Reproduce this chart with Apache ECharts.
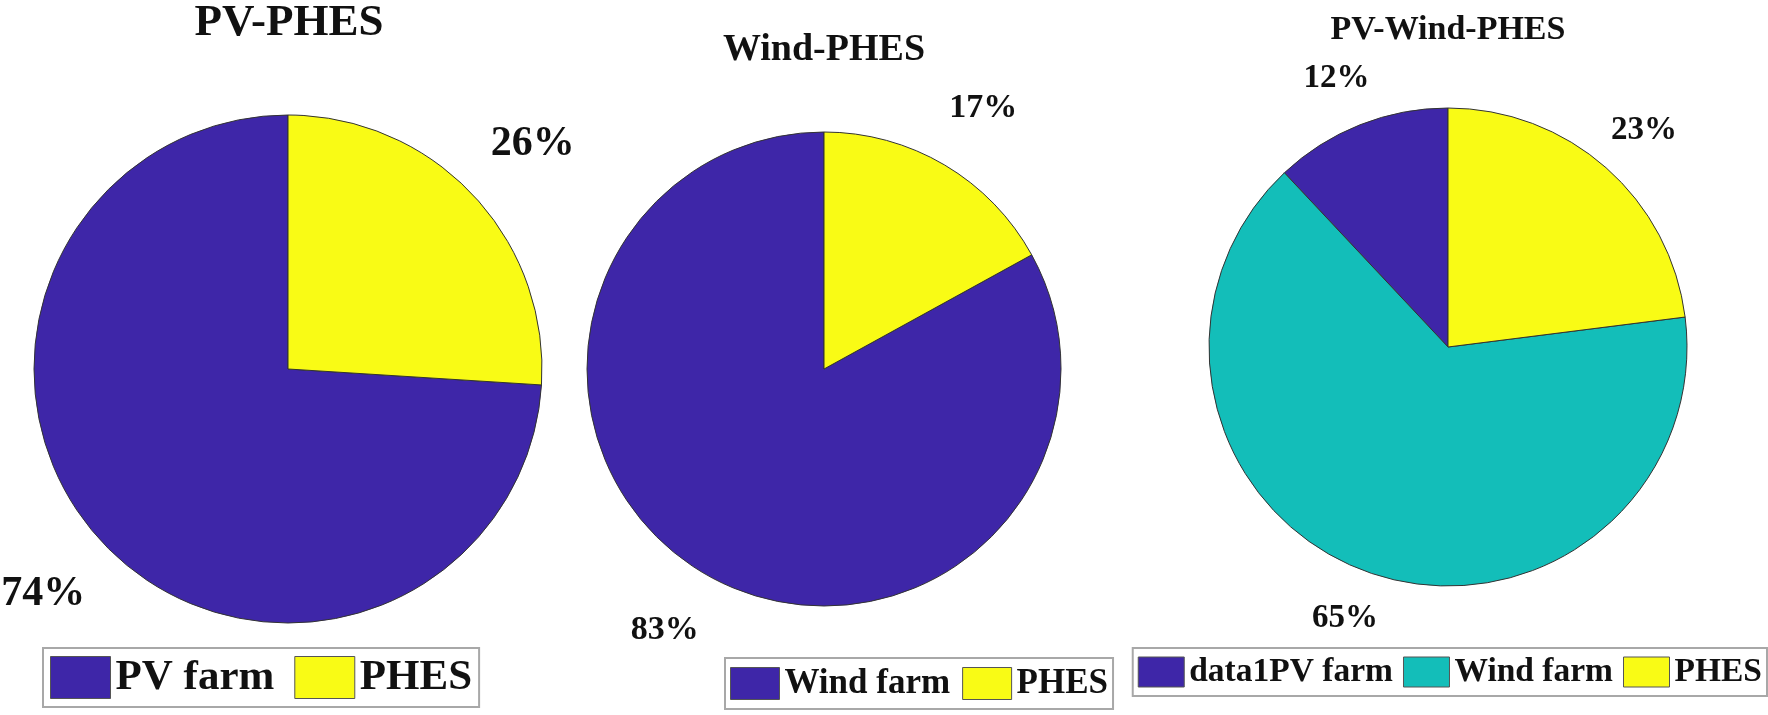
<!DOCTYPE html>
<html>
<head>
<meta charset="utf-8">
<script src="https://cdn.jsdelivr.net/npm/echarts@6/dist/echarts.min.js"></script>
<style>
  html, body { margin: 0; padding: 0; background: #fff; }
  #chart { width: 1768px; height: 715px; }
</style>
</head>
<body>
<div id="chart"></div>
<script>
// data per pie (values are the printed percentages)
const titles = ['PV-PHES', 'Wind-PHES', 'PV-Wind-PHES'];
const pvNames = ['PV farm', 'PHES'];
const pvValues = [74, 26];
const windNames = ['Wind farm', 'PHES'];
const windValues = [83, 17];
const hybridNames = ['data1PV farm', 'Wind farm', 'PHES'];
const hybridValues = [12, 65, 23];

const purple = '#3e26a8';
const teal = '#13beb9';
const yellow = '#f9fb15';
const font = 'Liberation Serif';

const pvColors = [purple, yellow];
const windColors = [purple, yellow];
const hybridColors = [purple, teal, yellow];

const chart = echarts.init(document.getElementById('chart'));

function pieSeries(names, values, colors, center, radius, labelLen, fontSize) {
    return {
        type: 'pie',
        center: center,
        radius: radius,
        startAngle: 90,
        clockwise: false,
        avoidLabelOverlap: false,
        silent: true,
        itemStyle: { borderColor: '#333', borderWidth: 1 },
        label: {
            show: true,
            position: 'outside',
            formatter: p => Math.round(p.percent) + '%',
            fontFamily: font,
            fontWeight: 'bold',
            fontSize: fontSize,
            color: '#111'
        },
        labelLine: { show: false, length: labelLen, length2: 0 },
        labelLayout: () => ({ align: 'center', verticalAlign: 'middle' }),
        data: names.map((n, i) => ({
            name: n,
            value: values[i],
            itemStyle: { color: colors[i] }
        }))
    };
}

function legendBox(names, colors, pos, iw, ih, fontSize, gap, pad) {
    return Object.assign({
        orient: 'horizontal',
        selectedMode: false,
        backgroundColor: '#fff',
        borderColor: '#a8a8a8',
        borderWidth: 2,
        padding: pad,
        itemWidth: iw,
        itemHeight: ih,
        itemGap: gap,
        icon: 'rect',
        textStyle: { fontFamily: font, fontWeight: 'bold', fontSize: fontSize, color: '#111' },
        data: names.map((n, i) => ({
            name: n,
            itemStyle: { color: colors[i], borderColor: '#555', borderWidth: 1 }
        }))
    }, pos);
}

const titleStyle = size => ({ fontFamily: font, fontWeight: 'bold', fontSize: size, color: '#111' });

const option = {
    backgroundColor: '#fff',
    animation: false,
    title: [
        { text: titles[0], left: 289, top: 1, textAlign: 'center', padding: 0, textStyle: titleStyle(45) },
        { text: titles[1], left: 824, top: 31, textAlign: 'center', padding: 0, textStyle: titleStyle(38) },
        { text: titles[2], left: 1448, top: 13, textAlign: 'center', padding: 0, textStyle: titleStyle(34) }
    ],
    legend: [
        legendBox(pvNames, pvColors, { left: 43, top: 648 }, 60, 42, 43, 20, [8, 7]),
        legendBox(windNames, windColors, { left: 725, top: 658 }, 49, 32, 35, 12, [8, 5]),
        legendBox(hybridNames, hybridColors, { right: 1, top: 648 }, 46, 30, 33.5, 10, [7, 5])
    ],
    series: [
        pieSeries(pvNames, pvValues, pvColors, [288, 369], 254, 75, 42),
        pieSeries(windNames, windValues, windColors, [824, 369], 237, 66, 34),
        pieSeries(hybridNames, hybridValues, hybridColors, [1448, 347], 239, 50, 33)
    ]
};

chart.setOption(option);
</script>
</body>
</html>
